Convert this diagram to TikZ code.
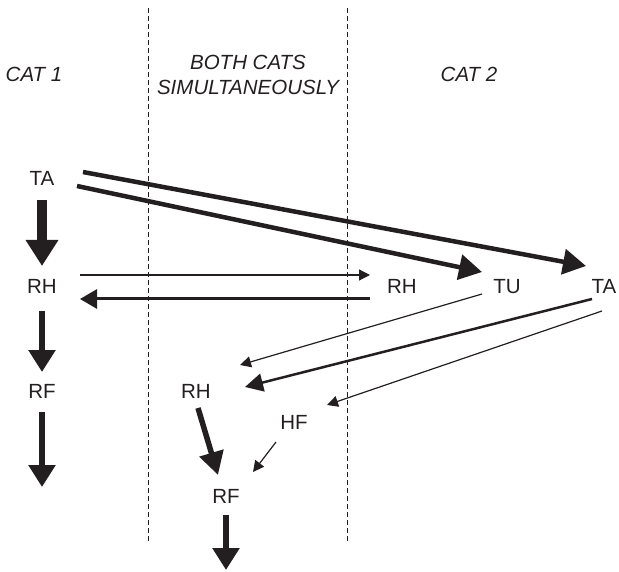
\documentclass[tikz,border=0pt]{standalone}
\usepackage{fontspec}
\setsansfont{Liberation Sans}
\usetikzlibrary{arrows.meta}
\definecolor{clrink}{HTML}{231F20}

\begin{document}
\begin{tikzpicture}[
    x=1pt, y=-1pt,
    every node/.style={font=\sffamily\fontsize{20.5pt}{25pt}\selectfont, text=clrink},
    state/.style={inner sep=0pt, text height=14pt, text depth=0pt},
    heading/.style={font=\sffamily\itshape\fontsize{20.5pt}{25pt}\selectfont, align=center, inner sep=0pt},
    divider/.style={draw=clrink, line width=1pt, dash pattern=on 5pt off 3pt},
    fatarrow/.style={-{Triangle[length=26pt, width=31pt]}, color=clrink, line width=10pt},
    downarrow/.style={-{Triangle[length=22pt, width=26pt]}, color=clrink, line width=5.5pt},
    boldarrow/.style={-{Triangle[length=23pt, width=25pt]}, color=clrink, line width=4.5pt},
    midarrow/.style={-{Triangle[length=18pt, width=18pt]}, color=clrink, line width=2.5pt},
    thinarrow/.style={-{Triangle[length=11pt, width=11pt]}, color=clrink, line width=1.2pt},
]
\useasboundingbox (0,0) rectangle (619,572);
% column borders
\draw[divider] (148,8) -- (148,543);
\draw[divider] (347,8) -- (347,543);
% headings
\node[heading] (h_cat1) at (34,74) {CAT 1};
\node[heading] (h_both) at (248,74.5) {BOTH CATS\\SIMULTANEOUSLY};
\node[heading] (h_cat2) at (469,74) {CAT 2};
% cat 1
\node[state] (ta1) at (42,179) {TA};
\node[state] (rh1) at (42,287) {RH};
\node[state] (rf1) at (42,391) {RF};
\coordinate (rf1_out) at (42,487);
% cat 2
\node[state] (rh2) at (402,287) {RH};
\node[state] (tu2) at (507,287) {TU};
\node[state] (ta2) at (604,287) {TA};
% both cats
\node[state] (rh3) at (196,391) {RH};
\node[state] (hf3) at (294,422) {HF};
\node[state] (rf3) at (226,496) {RF};
\coordinate (rf3_out) at (226,570);
\draw[fatarrow] ([yshift=-21pt]ta1.center) -- ([yshift=21pt]rh1.center);
\draw[downarrow] ([yshift=-24pt]rh1.center) -- ([yshift=19pt]rf1.center);
\draw[downarrow] ([yshift=-21pt]rf1.center) -- (rf1_out);
\draw[thinarrow] ([xshift=38pt, yshift=12pt]rh1.center) -- ([xshift=-32pt, yshift=12pt]rh2.center);
\draw[-{Triangle[length=17pt, width=19pt]}, color=clrink, line width=3pt] ([xshift=-32pt, yshift=-12pt]rh2.center) -- ([xshift=38pt, yshift=-12pt]rh1.center);
\draw[boldarrow] ([xshift=41pt, yshift=7pt]ta1.center) -- ([xshift=-18pt, yshift=21pt]ta2.center);
\draw[boldarrow] ([xshift=35pt, yshift=-7pt]ta1.center) -- ([xshift=-25pt, yshift=15pt]tu2.center);
\draw[thinarrow] ([xshift=-25pt, yshift=-7pt]tu2.center) -- ([xshift=44pt, yshift=26pt]rh3.center);
\draw[midarrow] ([xshift=-12pt, yshift=-12pt]ta2.center) -- ([xshift=49pt, yshift=4pt]rh3.center);
\draw[thinarrow] ([xshift=-2pt, yshift=-24pt]ta2.center) -- ([xshift=33pt, yshift=17pt]hf3.center);
\draw[-{Triangle[length=23pt, width=24pt]}, color=clrink, line width=5.5pt] ([xshift=2pt, yshift=-17pt]rh3.center) -- ([xshift=-8pt, yshift=21pt]rf3.center);
\draw[thinarrow] ([xshift=-18pt, yshift=-20pt]hf3.center) -- ([xshift=27pt, yshift=24pt]rf3.center);
\draw[downarrow] ([yshift=-19pt]rf3.center) -- (rf3_out);
\end{tikzpicture}
\end{document}
